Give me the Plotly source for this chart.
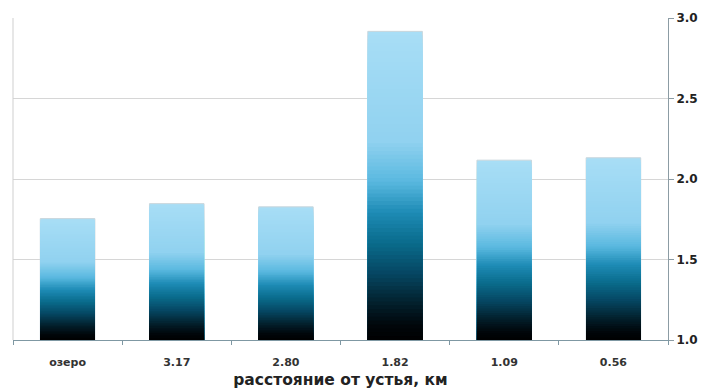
import plotly.graph_objects as go
import numpy as np

categories = ["озеро", "3.17", "2.80", "1.82", "1.09", "0.56"]
values = [1.754, 1.847, 1.827, 2.917, 2.117, 2.132]
y_ticks = [1.0, 1.5, 2.0, 2.5, 3.0]
x_title = "расстояние от устья, км"

# gradient stops (fraction from bar bottom -> colour)
grad_pos = [0.0, 0.05, 0.12, 0.22, 0.32, 0.42, 0.52, 0.65, 1.0]
grad_rgb = [(0, 0, 0), (1, 6, 10), (3, 30, 42), (6, 70, 98), (10, 108, 140),
            (30, 140, 182), (90, 185, 224), (145, 210, 240), (168, 222, 246)]

def colour_at(f):
    r = np.interp(f, grad_pos, [c[0] for c in grad_rgb])
    g = np.interp(f, grad_pos, [c[1] for c in grad_rgb])
    b = np.interp(f, grad_pos, [c[2] for c in grad_rgb])
    return f"rgb({int(r)},{int(g)},{int(b)})"

base = 1.0
N = 80
fig = go.Figure()
for k in range(N, 0, -1):
    frac = k / N
    heights = [(v - base) * frac for v in values]
    fig.add_trace(go.Bar(
        x=categories, y=heights, base=base,
        marker=dict(color=colour_at(frac),
                    line=dict(width=1 if k == N else 0, color="#c9d6dc")),
        width=0.5, showlegend=False, hoverinfo="skip",
    ))

fig.update_layout(
    width=706, height=392,
    margin=dict(l=13, r=38, t=18, b=52),
    paper_bgcolor="white", plot_bgcolor="white",
    barmode="overlay",
    font=dict(family="DejaVu Sans", color="#222222"),
    xaxis=dict(
        type="category", automargin=False,
        showline=True, linecolor="#7f98a3", linewidth=1,
        ticks="outside", tickson="boundaries", ticklen=4, tickcolor="#7f98a3",
        ticklabelstandoff=12,
        tickfont=dict(size=11, family="DejaVu Sans", weight="bold", color="#333333"),
        title=dict(text=x_title, font=dict(size=15.5, family="DejaVu Sans", weight="bold", color="#222222"),
                   standoff=5),
        showgrid=False,
    ),
    yaxis=dict(
        side="right", range=[1.0, 3.0], automargin=False,
        tickvals=y_ticks, ticktext=[f"{t:.1f}" for t in y_ticks],
        showline=True, linecolor="#8c9ca4", linewidth=1,
        ticks="outside", ticklen=5, tickcolor="#8c9ca4",
        tickfont=dict(size=12, family="DejaVu Sans", weight="bold", color="#222222"),
        showgrid=True, gridcolor="#d6d6d6", gridwidth=1,
        zeroline=False,
    ),
    shapes=[dict(type="line", xref="paper", yref="paper", x0=0, x1=0, y0=0, y1=1,
                 line=dict(color="#cfcfcf", width=1))],
)

fig.write_html("out.html")
